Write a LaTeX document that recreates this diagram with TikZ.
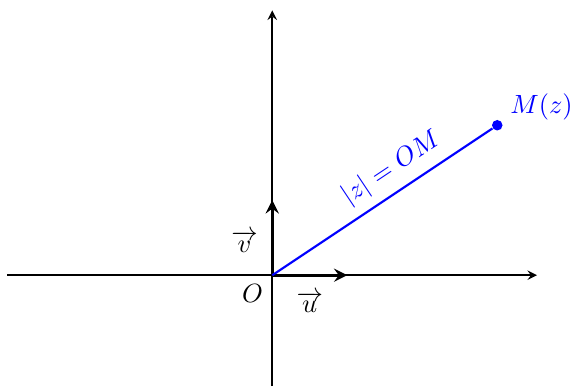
\documentclass[tikz,border=0pt]{standalone}
\usepackage{amsmath}
\usepackage{tikz}
\usepackage{xcolor}

\begin{document}
\begin{tikzpicture}[
			 eje/.style={-stealth, line width=0.6pt},
			 vector/.style={-stealth, line width=1.2pt},
			 punto/.style={circle, fill=blue, inner sep=0pt, minimum size=0.14cm}
  		]
	\useasboundingbox (-3.63,-1.48) rectangle (3.97,3.67);

	%Creamos los puntos
		\coordinate (O) at (0,0);
		\coordinate (xa) at (-3.53,0);
		\coordinate (xb) at (3.53,0);
		\coordinate (ya) at (0,-1.48);
		\coordinate (yb) at (0,3.53);
		\coordinate (u) at (1,0);
		\coordinate (v) at (0,1);
		\node[punto] (M) at (3,2) {};
	%Ejes
		\draw[eje] (xa) -- (xb);
		\draw[eje] (ya) -- (yb);
	%Vectores de la base
		\draw[vector] (O) -- (u);
		\draw[vector] (O) -- (v);
		\node[below left] (lO) at (O) {$O$};
		\node (lu) at (0.5,-0.36) {$\overrightarrow{u}$};
		\node (lv) at (-0.37,0.45) {$\overrightarrow{v}$};
	%Segmento OM
		\draw[blue, line width=0.8pt] (O) -- (M)
			node[pos=0.6, sloped, above] (lOM) {$|z| = OM$};
		\node[blue, above right, xshift=0.5mm, yshift=-0.5mm] (lM) at (M) {$M(z)$};
	\end{tikzpicture}
\end{document}
